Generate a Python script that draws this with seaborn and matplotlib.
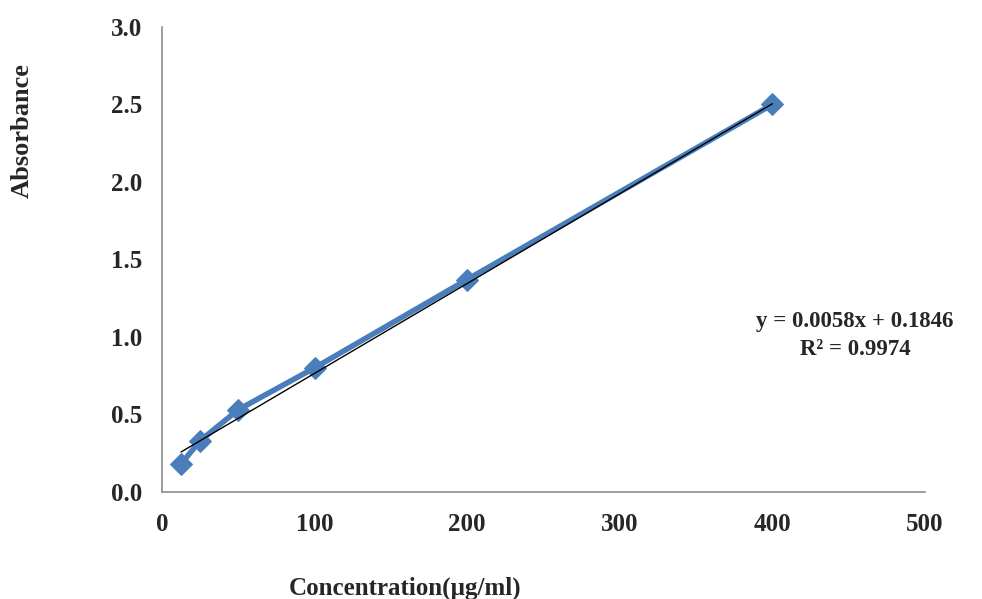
import numpy as np
import pandas as pd
import matplotlib
matplotlib.use("Agg")
import matplotlib.pyplot as plt
import seaborn as sns

# Dados
concentracao = [12.5, 25, 50, 100, 200, 400]
absorbancia = [0.18, 0.33, 0.53, 0.80, 1.37, 2.50]
inclinacao = 0.0058
intercepto = 0.1846
r2 = 0.9974

x_ticks = [0, 100, 200, 300, 400, 500]
y_ticks = [0.0, 0.5, 1.0, 1.5, 2.0, 2.5, 3.0]

df = pd.DataFrame({"Concentration": concentracao, "Absorbance": absorbancia})

sns.set_style("white")
plt.rcParams["font.family"] = ["Liberation Serif", "DejaVu Serif"]
plt.rcParams["font.weight"] = "bold"

fig = plt.figure(figsize=(9.82, 5.99), dpi=100)
ax = fig.add_axes([0.165, 0.179, 0.777, 0.776])

# linha de tendencia
xt = np.array([concentracao[0], concentracao[-1]])
ax.plot(xt, inclinacao * xt + intercepto, color="black", lw=1.0, zorder=3)

sns.lineplot(data=df, x="Concentration", y="Absorbance", ax=ax,
             color="#4a7ebb", lw=4, marker="D", markersize=11,
             markeredgecolor="#4a7ebb", zorder=2)

ax.set_xlim(0, 500)
ax.set_ylim(0, 3.0)
ax.set_xticks(x_ticks)
ax.set_yticks(y_ticks)
ax.set_yticklabels([f"{v:.1f}" for v in y_ticks])
ax.tick_params(labelsize=18, length=0)
ax.tick_params(axis="x", pad=15)
ax.tick_params(axis="y", pad=14)
for lab in ax.get_xticklabels() + ax.get_yticklabels():
    lab.set_fontweight("bold")

sns.despine(ax=ax)
for s in ["left", "bottom"]:
    ax.spines[s].set_color("#8c8c8c")
    ax.spines[s].set_linewidth(1.2)

ax.set_xlabel("Concentration(µg/ml)", fontsize=18, fontweight="bold")
ax.set_ylabel("Absorbance", fontsize=19, fontweight="bold")
ax.yaxis.set_label_coords(-0.168, 0.778)
ax.xaxis.set_label_coords(0.318, -0.182)

ax.text(0.908, 0.336, f"y = {inclinacao}x + {intercepto}\nR² = {r2}",
        transform=ax.transAxes, ha="center", va="center", fontsize=16.5,
        fontweight="bold", linespacing=1.4)

plt.savefig("out.png", dpi=100)
